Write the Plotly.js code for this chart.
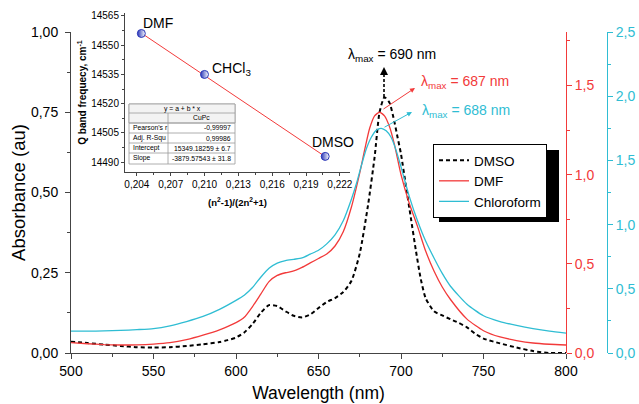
<!DOCTYPE html>
<html><head><meta charset="utf-8">
<script src="https://cdn.plot.ly/plotly-3.0.1.min.js"></script>
<style>html,body{margin:0;padding:0;background:#fff}#chart{width:639px;height:404px}</style>
</head><body><div id="chart"></div>
<script>
// ---- main spectra ----
const lambdaDMSO = [500,510,520,530,540,550,560,570,580,590,595,600,605,610,615,620,625,630,635,640,645,650,655,660,665,670,675,680,684,687,690,693,696,698,700,703,706,709,712,715,720,725,730,735,740,745,750,760,770,780,790,800];
const absDMSO = [0.035,0.031,0.026,0.022,0.018,0.017,0.018,0.022,0.027,0.034,0.04,0.048,0.064,0.09,0.125,0.149,0.146,0.13,0.116,0.111,0.12,0.14,0.159,0.171,0.19,0.225,0.31,0.46,0.61,0.75,0.797,0.78,0.72,0.67,0.62,0.52,0.42,0.32,0.23,0.17,0.13,0.117,0.105,0.094,0.08,0.06,0.045,0.03,0.017,0.006,0,0];

const lambdaDMF = [500,510,520,530,540,550,560,570,580,590,600,605,610,615,620,625,630,635,640,645,650,655,660,665,670,675,678,681,684,687,690,693,696,700,705,710,715,720,725,730,740,750,760,770,780,790,800];
const absDMF = [0.058,0.052,0.047,0.045,0.046,0.05,0.058,0.075,0.1,0.13,0.17,0.2,0.26,0.33,0.4,0.435,0.45,0.46,0.48,0.505,0.53,0.555,0.6,0.68,0.82,1.01,1.14,1.26,1.33,1.35,1.33,1.27,1.17,1.0,0.84,0.71,0.57,0.46,0.37,0.3,0.19,0.125,0.09,0.07,0.056,0.049,0.045];

const lambdaCHCl3 = [500,510,520,530,540,550,560,570,580,590,600,605,610,615,620,625,630,635,640,645,650,655,660,665,670,673,676,679,682,685,688,691,694,697,700,705,710,715,720,725,730,740,750,760,770,780,790,800];
const absCHCl3 = [0.17,0.17,0.172,0.176,0.182,0.19,0.212,0.245,0.285,0.34,0.41,0.45,0.51,0.59,0.66,0.7,0.72,0.73,0.74,0.77,0.8,0.85,0.92,1.03,1.2,1.32,1.46,1.59,1.68,1.735,1.75,1.73,1.68,1.58,1.45,1.22,1.03,0.87,0.74,0.62,0.52,0.38,0.29,0.245,0.215,0.19,0.17,0.155];

const seriesNames = ['DMSO','DMF','Chloroform'];

// ---- inset (Q band frequency vs solvent polarity function) ----
const insetSolvents = ['DMF','CHCl<sub>3</sub>','DMSO'];
const insetX = [0.2044, 0.2100, 0.2207];
const insetY = [14556, 14535, 14493];
const fitX = [0.2044, 0.2207];
const fitY = [14556.2, 14492.9];

// ---- fit table ----
const tableHeader = 'y = a + b * x';
const tableColumn = 'CuPc';
const tableLabels = ["Pearson's r", 'Adj. R-Squ', 'Intercept', 'Slope'];
const tableValues = ['-0,99997', '0,99986', '15349.18259 ± 6.7', '-3879.57543 ± 31.8'];

// ---- peak labels ----
const peakLabels = ['λ<sub>max</sub> = 690 nm', 'λ<sub>max</sub> = 687 nm', 'λ<sub>max</sub> = 688 nm'];

const RED = '#f23a3a', CYAN = '#2fbdd3', FONT = 'Liberation Sans, Arial, sans-serif';
const W = 639, H = 404, L = 71, R = 20, T = 10, B = 51;
const pw = W - L - R, ph = H - T - B;
const px = x => (x - L) / pw;
const py = y => (H - B - y) / ph;

const traces = [
  {x: lambdaDMSO, y: absDMSO, name: seriesNames[0], type: 'scatter', mode: 'lines', xaxis: 'x', yaxis: 'y',
   line: {color: '#000', width: 2, dash: '4px,3px', shape: 'spline', smoothing: 0.6}},
  {x: lambdaDMF, y: absDMF, name: seriesNames[1], type: 'scatter', mode: 'lines', xaxis: 'x', yaxis: 'y2',
   line: {color: RED, width: 1.3, shape: 'spline', smoothing: 0.6}},
  {x: lambdaCHCl3, y: absCHCl3, name: seriesNames[2], type: 'scatter', mode: 'lines', xaxis: 'x', yaxis: 'y3',
   line: {color: CYAN, width: 1.3, shape: 'spline', smoothing: 0.6}},
  {x: fitX, y: fitY, type: 'scatter', mode: 'lines', xaxis: 'x2', yaxis: 'y4', showlegend: false,
   line: {color: RED, width: 1}},
  {x: insetX, y: insetY, type: 'scatter', mode: 'markers', xaxis: 'x2', yaxis: 'y4', showlegend: false,
   marker: {symbol: 'circle', size: 8, color: '#2a36b8', line: {color: '#2a36b8', width: 1},
            gradient: {type: 'horizontal', color: '#ffffff'}}}
];

const axBase = {showgrid: false, zeroline: false, showline: true, linewidth: 1, ticks: 'outside', ticklen: 5, tickwidth: 1};

const annotations = [];
annotations.push({xref: 'paper', yref: 'paper', x: px(392), y: py(55), text: peakLabels[0], showarrow: false,
  font: {size: 14, color: '#000'}, xanchor: 'center', yanchor: 'middle'});
annotations.push({xref: 'paper', yref: 'paper', x: px(465), y: py(82), text: peakLabels[1], showarrow: false,
  font: {size: 14, color: RED}, xanchor: 'center', yanchor: 'middle'});
annotations.push({xref: 'paper', yref: 'paper', x: px(466), y: py(111), text: peakLabels[2], showarrow: false,
  font: {size: 14, color: CYAN}, xanchor: 'center', yanchor: 'middle'});
annotations.push({xref: 'paper', yref: 'paper', x: px(384), y: py(67), ax: 0, ay: 8, text: '', showarrow: true,
  arrowhead: 2, arrowsize: 1, arrowwidth: 1.6, arrowcolor: '#000'});
annotations.push({xref: 'paper', yref: 'paper', x: px(415), y: py(88), ax: -33, ay: 22, text: '', showarrow: true,
  arrowhead: 2, arrowsize: 1, arrowwidth: 1, arrowcolor: RED});
annotations.push({xref: 'paper', yref: 'paper', x: px(412), y: py(112), ax: -29, ay: 16, text: '', showarrow: true,
  arrowhead: 2, arrowsize: 1, arrowwidth: 1, arrowcolor: CYAN});
const insetLabelPos = [[158, 23], [231, 69], [333, 142]];
insetSolvents.forEach((s, i) => annotations.push({xref: 'paper', yref: 'paper', x: px(insetLabelPos[i][0]), y: py(insetLabelPos[i][1]),
  text: s, showarrow: false, font: {size: 14, color: '#000'}, xanchor: 'center', yanchor: 'middle'}));
const tX0 = 129, tX1 = 235, tXm = 168, rows = [104, 113, 123, 133, 143, 153, 164];
const tfont = {size: 6.8, color: '#000'};
annotations.push({xref: 'paper', yref: 'paper', x: px((tX0 + tX1) / 2), y: py((rows[0] + rows[1]) / 2), text: tableHeader,
  showarrow: false, font: tfont, xanchor: 'center', yanchor: 'middle'});
annotations.push({xref: 'paper', yref: 'paper', x: px((tXm + tX1) / 2), y: py((rows[1] + rows[2]) / 2), text: tableColumn,
  showarrow: false, font: tfont, xanchor: 'center', yanchor: 'middle'});
tableLabels.forEach((t, i) => {
  const yc = py((rows[i + 2] + rows[i + 3]) / 2);
  annotations.push({xref: 'paper', yref: 'paper', x: px(tX0 + 2), y: yc, text: t, showarrow: false, font: tfont, xanchor: 'left', yanchor: 'middle'});
  annotations.push({xref: 'paper', yref: 'paper', x: px(tX1 - 2), y: yc, text: tableValues[i], showarrow: false, font: tfont, xanchor: 'right', yanchor: 'middle'});
});

const shapes = [];
shapes.push({type: 'rect', xref: 'paper', yref: 'paper', x0: px(tX0), x1: px(tX1), y0: py(rows[6]), y1: py(rows[0]),
  fillcolor: '#fff', line: {color: '#9a9a9a', width: 0.8}, layer: 'above'});
shapes.push({type: 'rect', xref: 'paper', yref: 'paper', x0: px(tX0), x1: px(tX1), y0: py(rows[2]), y1: py(rows[0]),
  fillcolor: '#f3f3f3', line: {color: '#9a9a9a', width: 0.8}, layer: 'above'});
for (let i = 1; i < 6; i++) shapes.push({type: 'line', xref: 'paper', yref: 'paper', x0: px(tX0), x1: px(tX1), y0: py(rows[i]), y1: py(rows[i]),
  line: {color: '#9a9a9a', width: 0.8}, layer: 'above'});
shapes.push({type: 'line', xref: 'paper', yref: 'paper', x0: px(tXm), x1: px(tXm), y0: py(rows[6]), y1: py(rows[1]),
  line: {color: '#9a9a9a', width: 0.8}, layer: 'above'});
shapes.push({type: 'line', xref: 'paper', yref: 'paper', x0: px(384), x1: px(384), y0: py(97), y1: py(74),
  line: {color: '#000', width: 1.6, dash: '3px,2px'}, layer: 'above'});
// legend drop shadow (legend box is drawn over it)
shapes.push({type: 'rect', xref: 'paper', yref: 'paper', x0: px(439), x1: px(559), y0: py(222), y1: py(150),
  fillcolor: '#000', line: {width: 0}, layer: 'above'});

const layout = {
  width: W, height: H, margin: {l: L, r: R, t: T, b: B, pad: 0},
  paper_bgcolor: '#fff', plot_bgcolor: 'rgba(0,0,0,0)',
  font: {family: FONT, size: 14, color: '#000'},
  separators: ',.',
  showlegend: true,
  legend: {x: px(433), y: py(144), xanchor: 'left', yanchor: 'top', bgcolor: '#fff', bordercolor: '#000', borderwidth: 1,
    font: {size: 13.5}, tracegroupgap: 0, itemwidth: 30},
  xaxis: Object.assign({}, axBase, {domain: [0, px(566)], range: [500, 800], anchor: 'y', tick0: 500, dtick: 50,
    minor: {dtick: 25, ticks: 'outside', ticklen: 3}, tickfont: {size: 14},
    title: {text: 'Wavelength (nm)', font: {size: 17.5}, standoff: 8}}),
  yaxis: Object.assign({}, axBase, {domain: [0, py(32)], range: [0, 1], anchor: 'x', dtick: 0.25, tick0: 0, tickformat: '.2f',
    minor: {dtick: 0.125, ticks: 'outside', ticklen: 3}, tickfont: {size: 14}, ticklabelstandoff: 4,
    title: {text: 'Absorbance (au)', font: {size: 18.5}, standoff: 0}}),
  yaxis2: Object.assign({}, axBase, {domain: [0, py(32)], range: [0, 1.8], anchor: 'x', side: 'right', dtick: 0.5, tick0: 0,
    tickformat: '.1f', linecolor: RED, tickcolor: RED, tickfont: {size: 14, color: RED},
    minor: {dtick: 0.25, ticks: 'outside', ticklen: 3, tickcolor: RED}}),
  yaxis3: Object.assign({}, axBase, {domain: [0, py(32)], range: [0, 2.5], anchor: 'free', position: px(607), side: 'right',
    dtick: 0.5, tick0: 0, tickformat: '.1f', linecolor: CYAN, tickcolor: CYAN, tickfont: {size: 14, color: CYAN},
    minor: {dtick: 0.25, ticks: 'outside', ticklen: 3, tickcolor: CYAN}}),
  xaxis2: Object.assign({}, axBase, {domain: [px(125), px(350)], range: [0.20295, 0.2229], anchor: 'y4', tick0: 0.204, dtick: 0.003,
    tickformat: '.3f', ticklen: 3, tickfont: {size: 10},
    minor: {dtick: 0.0015, ticks: 'outside', ticklen: 2},
    title: {text: '<b>(n<sup>2</sup>-1)/(2n<sup>2</sup>+1)</b>', font: {size: 9.5}, standoff: 10}}),
  yaxis4: Object.assign({}, axBase, {domain: [py(172), py(13)], range: [14485, 14566.5], anchor: 'x2', tick0: 14490, dtick: 15,
    tickformat: 'd', ticklen: 3, tickfont: {size: 10}, minor: {dtick: 7.5, ticks: 'outside', ticklen: 2},
    title: {text: '<b>Q band frequecy, cm<sup>-1</sup></b>', font: {size: 10}, standoff: 2}}),
  annotations: annotations,
  shapes: shapes
};

Plotly.newPlot('chart', traces, layout, {displayModeBar: false, staticPlot: true});
</script>
</body></html>
